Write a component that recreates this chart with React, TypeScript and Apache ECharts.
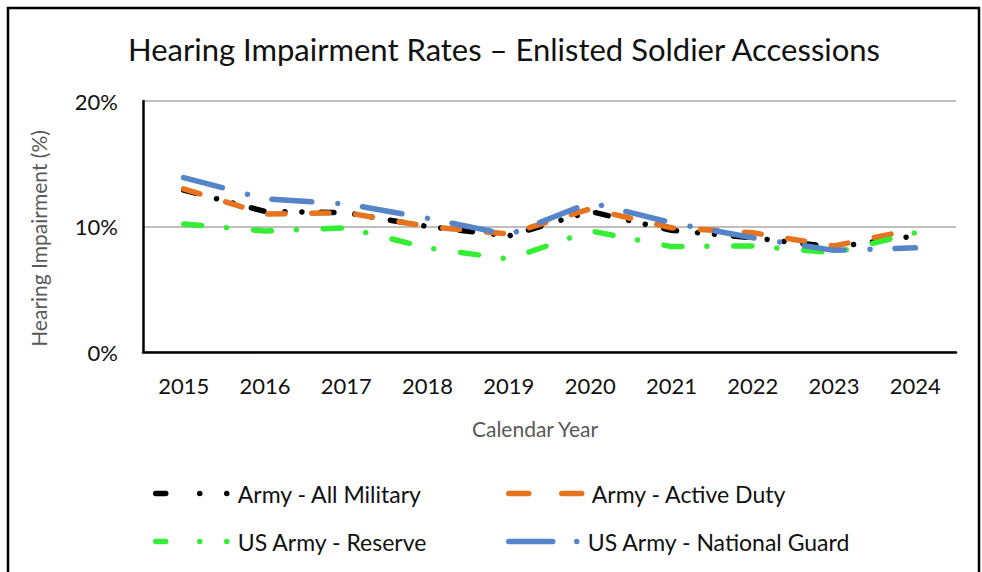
import React, { useEffect, useRef } from "react";
import * as echarts from "echarts";

const years = ["2015", "2016", "2017", "2018", "2019", "2020", "2021", "2022", "2023", "2024"];
const allMilitary = [12.9, 11.2, 11.1, 10.0, 9.25, 11.2, 9.7, 9.1, 8.35, 9.25];
const activeDuty = [13.0, 11.0, 11.1, 10.0, 9.4, 11.4, 9.9, 9.5, 8.45, 9.8];
const reserve = [10.2, 9.65, 9.9, 8.3, 7.4, 9.65, 8.4, 8.45, 7.9, 9.5];
const nationalGuard = [13.9, 12.2, 11.8, 10.65, 9.35, 11.9, 10.3, 9.1, 8.1, 8.3];
const seriesNames = [
  "Army - All Military",
  "Army - Active Duty",
  "US Army - Reserve",
  "US Army - National Guard",
];

const FONT = "Lato, 'Open Sans', sans-serif";

export default function App() {
  const ref = useRef<HTMLDivElement>(null);
  useEffect(() => {
    if (!ref.current) return;
    const chart = echarts.init(ref.current, undefined, { renderer: "svg" });
    const colors = ["#000000", "#E8731E", "#33EE33", "#5584C8"];
    const chartDash = [
      [13, 21, 0.01, 17, 0.01, 19],
      [17, 27],
      [18, 25, 0.01, 27],
      [40, 26, 0.01, 25],
    ];
    const legendDash = [
      [10, 34, 0.01, 27, 0.01, 100],
      [20, 33],
      [10, 34, 0.01, 27, 0.01, 100],
      [44, 24, 0.01, 100],
    ];
    const dataSets = [allMilitary, activeDuty, reserve, nationalGuard];
    const legendPos = [
      [153, 482, 77],
      [506, 482, 78],
      [153, 530, 77],
      [506, 530, 74],
    ];
    const legends = seriesNames.map((name, i) => ({
      data: [
        {
          name,
          lineStyle: { type: legendDash[i], width: 5.5, cap: "round", color: colors[i] },
          itemStyle: { color: "rgba(0,0,0,0)", borderWidth: 0, opacity: 0 },
        },
      ],
      left: legendPos[i][0],
      top: legendPos[i][1],
      padding: 0,
      itemWidth: legendPos[i][2],
      itemHeight: 14,
      selectedMode: false,
      textStyle: { fontFamily: FONT, fontSize: 23, color: "#111" },
    }));
    chart.setOption({
      animation: false,
      backgroundColor: "#fff",
      title: {
        text: "Hearing Impairment Rates \u2013 Enlisted Soldier Accessions",
        left: 499,
        top: 28,
        textAlign: "center",
        textStyle: { fontFamily: FONT, fontSize: 31, fontWeight: "normal", color: "#111" },
      },
      legend: legends,
      grid: { left: 143, right: 26, top: 101, bottom: 220 },
      xAxis: {
        type: "category",
        data: years,
        boundaryGap: true,
        name: "Calendar Year",
        nameLocation: "middle",
        nameGap: 66,
        nameTextStyle: {
          fontFamily: FONT,
          fontSize: 21,
          color: "#595959",
          padding: [0, 29, 0, 0],
        },
        axisLine: { lineStyle: { color: "#000", width: 2.5 } },
        axisTick: { show: false },
        axisLabel: { fontFamily: FONT, fontSize: 22, color: "#111", margin: 22 },
      },
      yAxis: {
        type: "value",
        min: 0,
        max: 20,
        interval: 10,
        name: "Hearing Impairment (%)",
        nameLocation: "middle",
        nameGap: 94,
        nameTextStyle: {
          fontFamily: FONT,
          fontSize: 21,
          color: "#595959",
          padding: [0, 24, 0, 0],
        },
        axisLine: { show: true, lineStyle: { color: "#000", width: 2.5 } },
        axisTick: { show: false },
        axisLabel: {
          fontFamily: FONT,
          fontSize: 22,
          color: "#111",
          margin: 25,
          formatter: "{value}%",
        },
        splitLine: { lineStyle: { color: "#BFBFBF", width: 2 } },
      },
      series: dataSets.map((d, i) => ({
        name: seriesNames[i],
        type: "line",
        data: d,
        symbol: "none",
        z: 2 + i,
        lineStyle: {
          color: colors[i],
          width: 5.5,
          type: chartDash[i],
          cap: "round",
          join: "round",
        },
        itemStyle: { color: colors[i] },
      })),
      graphic: [
        {
          type: "rect",
          shape: { x: 8, y: 8, width: 971, height: 640 },
          style: { fill: "none", stroke: "#000", lineWidth: 2.5 },
          silent: true,
        },
      ],
    });
    return () => chart.dispose();
  }, []);
  return (
    <div
      ref={ref}
      style={{ position: "fixed", left: 0, top: 0, width: 982, height: 572, background: "#fff" }}
    />
  );
}
